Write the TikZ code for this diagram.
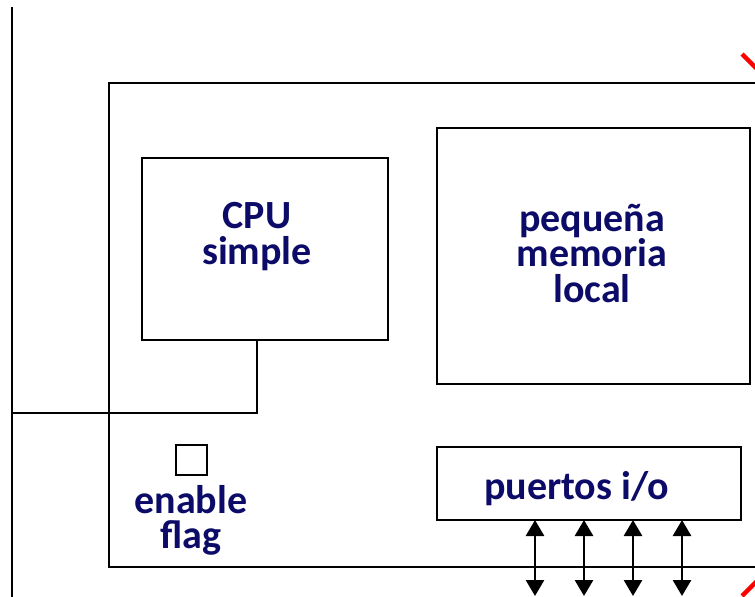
\documentclass[tikz,border=0pt]{standalone}
\usepackage{fontspec}
\setmainfont{Carlito}
\usetikzlibrary{arrows.meta}
\definecolor{navytext}{RGB}{12,12,104}
\begin{document}
\begin{tikzpicture}[x=1pt,y=-1pt,
  box/.style={draw=black, line width=1.5pt, inner sep=0pt, outer sep=0pt},
  lbl/.style={text=navytext, font=\bfseries\fontsize{40}{35}\selectfont, align=center, inner sep=0pt, anchor=base},
  wire/.style={line width=1.5pt},
  bus/.style={line width=2.8pt, {Triangle[width=18pt,length=16pt]}-{Triangle[width=18pt,length=16pt]}},
  cut/.style={draw=red, line width=4.5pt}]
\useasboundingbox (0,0) rectangle (755,597);

% left rail and the processor element outline (continues past the right edge)
\coordinate (railTop) at (12,7);
\coordinate (railBot) at (12,597);
\draw[wire] (railTop) -- (railBot);
\coordinate (peTR) at (760,83);
\coordinate (peTL) at (109,83);
\coordinate (peBL) at (109,567);
\coordinate (peBR) at (760,567);
\draw[wire] (peTR) -- (peTL) -- (peBL) -- (peBR);

% blocks
\node[box, minimum width=246pt, minimum height=182pt] (cpu) at (265,249) {};
\node[box, minimum width=313pt, minimum height=256pt] (mem) at (593.5,256) {};
\node[box, minimum width=304pt, minimum height=73pt] (io) at (589,483.5) {};
\node[box, line width=1.3pt, minimum width=31pt, minimum height=30pt] (flag) at (191.5,460) {};

% labels (positioned by the baseline of their last line)
\node[lbl, font=\bfseries\fontsize{40}{36}\selectfont] (cpuTxt) at (257,264) {CPU\\simple};
\node[lbl, font=\bfseries\fontsize{40}{35.5}\selectfont] (memTxt) at (592,302) {pequeña\\memoria\\local};
\node[lbl] (ioTxt) at (576.5,499) {puertos i/o};
\node[lbl, font=\bfseries\fontsize{40}{35}\selectfont] (flagTxt) at (191,548) {enable\\flag};

% CPU tap onto the rail
\coordinate (cpuTap) at (257,340);
\coordinate (railJoin) at (12,413);
\draw[wire] (cpuTap) |- (railJoin);

% i/o port lines
\foreach \i/\x in {1/535,2/584,3/633,4/682}{
  \coordinate (p\i) at (\x,596);
  \draw[bus] (p\i |- io.south) -- (p\i);
}

% cut marks at the right edge
\coordinate (cutA1) at (742,54);
\coordinate (cutA2) at (758,70);
\coordinate (cutB1) at (742,596);
\coordinate (cutB2) at (758,580);
\draw[cut] (cutA1) -- (cutA2);
\draw[cut] (cutB1) -- (cutB2);
\end{tikzpicture}
\end{document}
